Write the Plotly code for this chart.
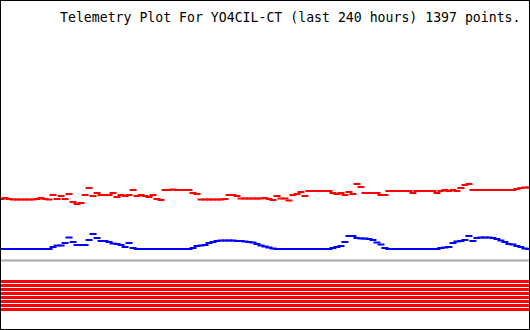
import plotly.graph_objects as go

# ---- data ----
title_text = "Telemetry Plot For YO4CIL-CT (last 240 hours) 1397 points."

n_samples = 133
hours = [i * 240 / (n_samples - 1) for i in range(n_samples)]

# channel 1 (red)
red_values = [
    131, 132, 131, 130.5, 130.5, 130.5, 130.5, 130.5, 130.5, 131, 132, 131, 130.5,   # 0-48
    135, 131, 134, 131, 136, 128, 126, 127, 135, 142, 134, 137, 135, 135, 135,       # 52-108
    137, 133, 135, 134, 135, 140, 134, 135, 134, 133, 135, 131, 130,                 # 112-160
    140, 140, 140.5, 140, 140, 140, 140, 137, 136,                                   # 164-196
    130.5, 130.5, 130.5, 130.5, 130.5, 130.5, 131, 135, 135, 134,                    # 200-236
    131.5, 131.5, 131.5, 131.5, 131.5, 131.5, 132, 131, 130, 134, 131.5, 131.5,      # 240-284
    129.5, 135, 136, 138, 134, 139, 139, 139, 139, 139, 139,                         # 288-328
    137, 136, 137, 135, 138, 136, 146, 143, 137, 137, 137, 137, 135, 135,            # 332-384
    139, 139, 139, 139, 139, 139, 137, 139, 139, 139, 139, 139, 137,                 # 388-436
    139, 140, 139, 140, 139, 142, 145, 146,                                          # 440-468
    140, 140, 140, 140, 140, 140, 140, 140, 140, 140, 140, 141, 142, 142.5, 142.5,   # 472-528
]

# channel 2 (blue)
blue_values = [
    81, 81, 81, 81, 81, 81, 81, 81, 81, 81, 81, 81, 81,                              # 0-48
    83, 84.5, 84.5, 87, 92.5, 88, 85, 85, 85, 90, 96, 92, 89, 89, 88, 86.5, 86,
    85, 83, 87, 82,                                                                  # 52-132
    81, 81, 81, 81, 81, 81, 81, 81, 81, 81, 81, 81, 81, 81,                          # 136-188
    82, 84, 84.5, 85, 87, 88, 89, 89.5, 89.5, 89.5, 89.5, 89, 89, 88.5, 88, 87.5,
    86, 84.5, 83.5, 82.5, 81.5,                                                      # 192-272
    81, 81, 81, 81, 81, 81, 81, 81, 81, 81, 81, 81, 81, 81,                          # 276-328
    82, 83, 84, 88, 94, 94, 92, 91.5, 91.5, 91, 90, 87.5, 85.5, 82,                  # 332-384
    81, 81, 81, 81, 81, 81, 81, 81, 81, 81, 81, 81, 81,                              # 388-436
    82, 82.5, 83, 87, 88.5, 89, 90, 94, 89, 92, 92.5, 92.5, 92.5, 92, 91, 89.5,
    88, 86, 85.5, 84, 83, 81.5, 81,                                                  # 440-528
]

reference_level = [69.5]                     # grey line
bit_levels = [48.5, 44.5, 40.5, 36.5, 32.5, 28.5, 24.5, 20.5]   # red status bars

assert len(red_values) == n_samples and len(blue_values) == n_samples

fig = go.Figure()

for lvl in bit_levels:
    fig.add_trace(go.Scatter(x=[hours[0], hours[-1]], y=[lvl, lvl], mode="lines",
                             line=dict(color="#ff0000", width=3), hoverinfo="skip"))

for lvl in reference_level:
    fig.add_trace(go.Scatter(x=[hours[0], hours[-1]], y=[lvl, lvl], mode="lines",
                             line=dict(color="#aaaaaa", width=2), hoverinfo="skip"))

fig.add_trace(go.Scatter(x=hours, y=red_values, mode="markers",
                         marker=dict(symbol="line-ew", size=5,
                                     line=dict(color="#ff0000", width=2))))
fig.add_trace(go.Scatter(x=hours, y=blue_values, mode="markers",
                         marker=dict(symbol="line-ew", size=5,
                                     line=dict(color="#0000ff", width=2))))

fig.add_annotation(text=title_text, xref="paper", yref="paper",
                   x=58 / 530, y=1 - 17 / 330, xanchor="left", yanchor="middle",
                   showarrow=False,
                   font=dict(family="DejaVu Sans Mono", size=13.2, color="black"))

fig.add_shape(type="rect", xref="paper", yref="paper", x0=0, y0=0, x1=1, y1=1,
              line=dict(color="black", width=2))

fig.update_layout(
    width=530, height=330,
    margin=dict(l=0, r=0, t=0, b=0),
    paper_bgcolor="white", plot_bgcolor="white",
    showlegend=False,
    xaxis=dict(range=[-0.5, 240.5], visible=False, fixedrange=True),
    yaxis=dict(range=[0, 330], visible=False, fixedrange=True),
)

fig.write_html("out.html", config={"displayModeBar": False})
